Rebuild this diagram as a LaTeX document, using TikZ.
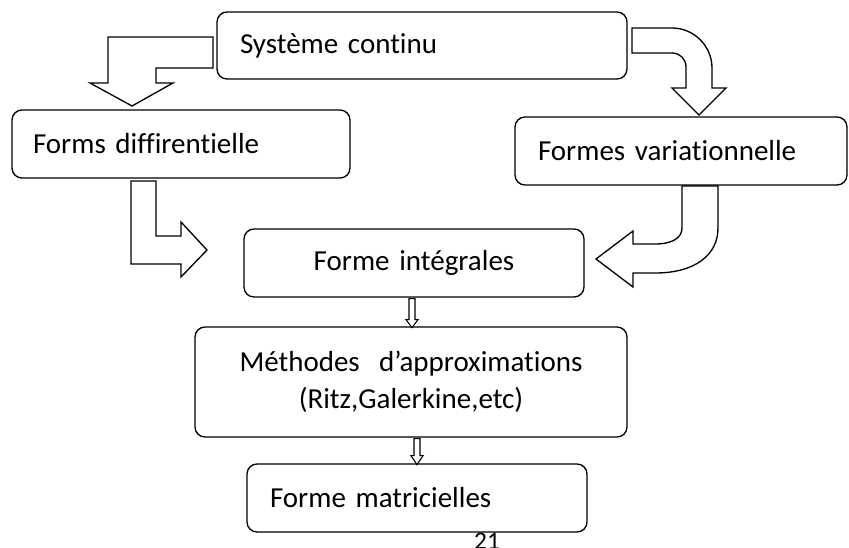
\documentclass[tikz,border=0pt]{standalone}
\usepackage{fontspec}
\setmainfont[Ligatures={NoCommon,NoContextual}, WordSpace=0.8]{Carlito}
\usepackage{tikz}
\usetikzlibrary{calc}
\tikzset{
    flow-box/.style = {draw=black, fill=white, line width=1pt, rectangle, rounded corners=7.5pt, inner sep=0pt, inner xsep=17.25pt, minimum height=51pt, font=\fontsize{21.75}{27.75}\selectfont},
    block-arrow/.style = {draw=black, fill=white, line width=1pt, line join=miter},
    small-arrow/.style = {draw=black, fill=white, line width=0.8pt},
}

\begin{document}
\begin{tikzpicture}[x=0.75pt, y=-0.75pt]
\useasboundingbox (0,0) rectangle (849,547);
\clip (0,0) rectangle (849,547);

% boxes
\node[flow-box, text width=273pt, align=left, minimum height=50.25pt] (sys) at (422,45.5) {Système continu};
\node[flow-box, inner xsep=15.75pt, text width=222pt, align=left] (diff) at (181,144) {Forms diffirentielle};
\node[flow-box, text width=214.5pt, align=left] (var) at (681,151) {Formes variationnelle};
\node[flow-box, text width=220.5pt, align=center] (integ) at (414,263) {Forme intégrales};
\node[flow-box, text width=289.5pt, align=center, minimum height=82.5pt] (meth) at (411,382) {Méthodes\ \ d’approximations\\(Ritz,Galerkine,etc)};
\node[flow-box, text width=220.5pt, align=left] (matr) at (417,498) {Forme matricielles};

% big arrows
\draw[block-arrow] (213,37) -- (108,37) -- (108,83) -- (90,83) -- (132,106) -- (173,83) -- (156,83) -- (156,68) -- (213,68) -- cycle;
\draw[block-arrow] (632,28) -- (672,28) .. controls (694,28) and (712,46) .. (712,68) -- (712,88) -- (726,88) -- (699,115) -- (672,88) -- (686,88) -- (686,67) .. controls (686,59) and (680,53) .. (672,53) -- (632,53) -- cycle;
\draw[block-arrow] (131,181) -- (131,264) -- (181,264) -- (181,277) -- (207,250) -- (181,222) -- (181,236) -- (156,236) -- (156,181) -- cycle;
\draw[block-arrow] (682,186) -- (682,228) .. controls (682,238) and (672,244) .. (655,244) -- (633,244) -- (633,231) -- (596,259) -- (633,287) -- (633,273) -- (655,273) .. controls (695,273) and (718,255) .. (718,228) -- (718,186) -- cycle;

% small arrows
\draw[small-arrow] ($(integ.south)+(-5,1)$) -- ++(0,21) -- ++(-3,0) -- ++(6,8) -- ++(6,-8) -- ++(-3,0) -- ++(0,-21) -- cycle;
\draw[small-arrow] ($(meth.south)+(3,1)$) -- ++(0,17) -- ++(-3,0) -- ++(6,9) -- ++(6,-9) -- ++(-3,0) -- ++(0,-17) -- cycle;

\node[anchor=north, inner sep=0pt, font=\fontsize{19}{22}\selectfont] (page) at (487,533) {21};
\end{tikzpicture}
\end{document}
